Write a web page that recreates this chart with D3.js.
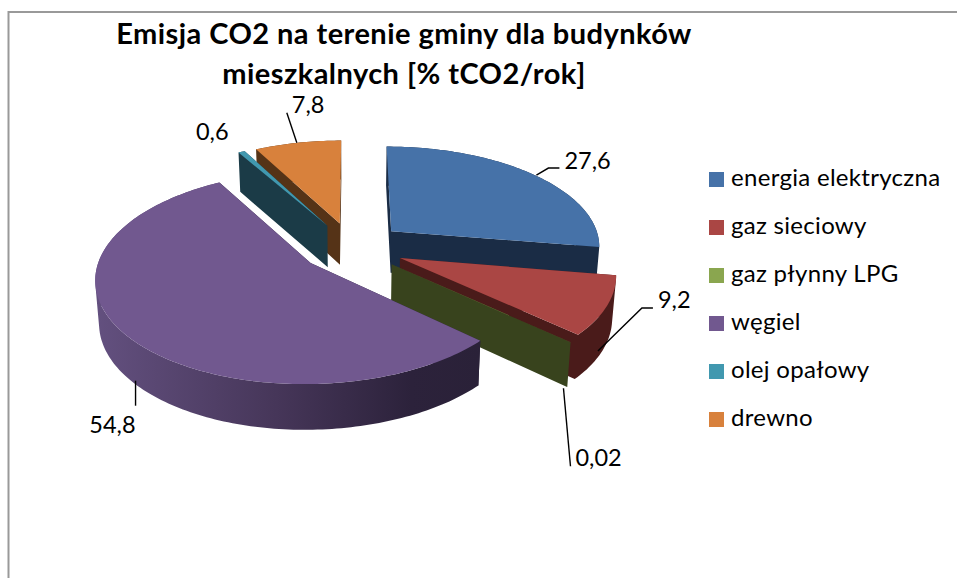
<!DOCTYPE html>
<html>
<head>
<meta charset="utf-8">
<script src="https://cdnjs.cloudflare.com/ajax/libs/d3/7.8.5/d3.min.js"></script>
<style>
    html, body { margin: 0; padding: 0; background: #fff; }
    svg { display: block; }
    text { font-family: Lato, "Open Sans", sans-serif; fill: #000; }
</style>
</head>
<body>
<div id="chart"></div>
<script>
const categories = ["energia elektryczna", "gaz sieciowy", "gaz płynny LPG", "węgiel", "olej opałowy", "drewno"];
const values = [27.6, 9.2, 0.02, 54.8, 0.6, 7.8];
const valueLabels = ["27,6", "9,2", "0,02", "54,8", "0,6", "7,8"];
const topColors = ["#4672a8", "#aa4644", "#8aa64f", "#71588f", "#4198af", "#d8813c"];
const wallColors = ["#1a2c45", "#4a1b1a", "#38431d", "#2c223b", "#1b3b47", "#553317"];
const titleLines = ["Emisja CO2 na terenie gminy dla budynków", "mieszkalnych [% tCO2/rok]"];

const width = 957, height = 578;

// tilted pie, near side bigger than far side
const cx = 352, cy = 247, rxRight = 210, rxLeft = 208, ry = 100;
const persp = 0.135, explode = 0.25, depth = 42, bottomShrink = 0.985;

const svg = d3.select("#chart").append("svg")
    .attr("width", width)
    .attr("height", height);

const defs = svg.append("defs");
const grad = defs.append("linearGradient")
    .attr("id", "coalWall")
    .attr("gradientUnits", "userSpaceOnUse")
    .attr("x1", 96).attr("x2", 480).attr("y1", 0).attr("y2", 0);
[[0, "#63507f"], [0.47, "#463659"], [0.82, "#2c223b"], [1, "#2a2138"]].forEach(function(s) {
    grad.append("stop").attr("offset", s[0]).attr("stop-color", s[1]);
});

// chart frame, only left and top edges are on the picture
svg.append("path")
    .attr("d", "M8.5," + height + "V12H" + width)
    .attr("fill", "none")
    .attr("stroke", "#999")
    .attr("stroke-width", 2);

const pie = d3.pie().sort(null).startAngle(0).endAngle(2 * Math.PI);
const arcs = pie(values);

function project(mx, my, bottom) {
    const p = 1 / (1 - persp * my);
    const x = (mx < 0 ? rxLeft : rxRight) * mx * p, y = ry * my * p;
    if (!bottom) return [cx + x, cy + y];
    return [cx + x * bottomShrink, cy + y + depth * Math.sqrt(p)];
}

function midAngle(a) { return (a.startAngle + a.endAngle) / 2; }

function apexModel(a) {
    const m = midAngle(a);
    return [explode * Math.sin(m), -explode * Math.cos(m)];
}

function rimModel(a, t) {
    const o = apexModel(a);
    return [o[0] + Math.sin(t), o[1] - Math.cos(t)];
}

function rimPoints(a, bottom) {
    const n = Math.max(2, Math.ceil((a.endAngle - a.startAngle) / 0.02));
    return d3.range(n + 1).map(function(i) {
        const t = a.startAngle + (a.endAngle - a.startAngle) * i / n;
        const m = rimModel(a, t);
        return project(m[0], m[1], bottom);
    });
}

const polyLine = d3.line();

// same winding for all pieces, so one path fills them without seams
function wound(poly) {
    const pts = poly.slice();
    if (d3.polygonArea(pts) < 0) pts.reverse();
    return polyLine(pts) + "Z";
}

function drawSlice(a) {
    const i = a.index;
    const g = svg.append("g").attr("class", "slice");
    const apex = apexModel(a);
    const apexTop = project(apex[0], apex[1], false);
    const apexBot = project(apex[0], apex[1], true);
    const rimTop = rimPoints(a, false);
    const rimBot = rimPoints(a, true);
    const last = rimTop.length - 1;

    const radial = wound([apexTop, rimTop[0], rimBot[0], apexBot])
        + wound([apexTop, rimTop[last], rimBot[last], apexBot]);
    const outer = d3.range(last).map(function(k) {
        return wound([rimTop[k], rimTop[k + 1], rimBot[k + 1], rimBot[k]]);
    }).join("");

    if (i === 3) {
        g.append("path").attr("d", radial).attr("fill", wallColors[i]);
        g.append("path").attr("d", outer).attr("fill", "url(#coalWall)");
    } else {
        g.append("path").attr("d", radial + outer).attr("fill", wallColors[i]);
    }
    g.append("path")
        .attr("d", polyLine([apexTop].concat(rimTop)) + "Z")
        .attr("fill", topColors[i]);
}

// far slices first
[0, 5, 4, 1, 2, 3].forEach(function(i) { drawSlice(arcs[i]); });

// leader line bends and label spots, relative to the rim at the middle of the slice
const leaderLayout = [
    { line: [[4, 1], [16, -6], [27, -6]], label: [32, -5], anchor: "start" },
    { line: [[-9, 45], [35, 2], [46, 2]], label: [51, 2], anchor: "start" },
    { line: [[-7, 46], [0, 124]], label: [5, 124], anchor: "start" },
    { line: [[10, 46], [10, 71]], label: [10, 98], anchor: "end" },
    { line: null, label: [-13, -12], anchor: "end" },
    { line: [[-1, 0], [-11, -30]], label: [-6, -30], anchor: "start" }
];

const labels = svg.append("g").attr("class", "labels");
arcs.forEach(function(a, i) {
    const mm = rimModel(a, midAngle(a));
    const base = project(mm[0], mm[1], false);
    const lay = leaderLayout[i];
    if (lay.line) {
        labels.append("path")
            .attr("d", polyLine(lay.line.map(function(d) { return [base[0] + d[0], base[1] + d[1]]; })))
            .attr("fill", "none")
            .attr("stroke", "#000")
            .attr("stroke-width", 1.4);
    }
    labels.append("text")
        .attr("x", base[0] + lay.label[0])
        .attr("y", base[1] + lay.label[1])
        .attr("text-anchor", lay.anchor)
        .attr("font-size", 23.5)
        .text(valueLabels[i]);
});

// legend
const legendY = d3.scalePoint().domain(categories).range([172, 412]);
const legend = svg.append("g").attr("class", "legend");
categories.forEach(function(c, i) {
    legend.append("rect")
        .attr("x", 709).attr("y", legendY(c))
        .attr("width", 15).attr("height", 15)
        .attr("fill", topColors[i]);
    legend.append("text")
        .attr("x", 731).attr("y", legendY(c) + 14)
        .attr("font-size", 24)
        .attr("letter-spacing", 0.3)
        .text(c);
});

// title
svg.append("g").selectAll("text")
    .data(titleLines)
    .join("text")
    .attr("x", 404)
    .attr("y", function(d, i) { return 44 + i * 40; })
    .attr("text-anchor", "middle")
    .attr("font-size", 29)
    .attr("font-weight", 700)
    .attr("letter-spacing", 0.45)
    .text(function(d) { return d; });
</script>
</body>
</html>
